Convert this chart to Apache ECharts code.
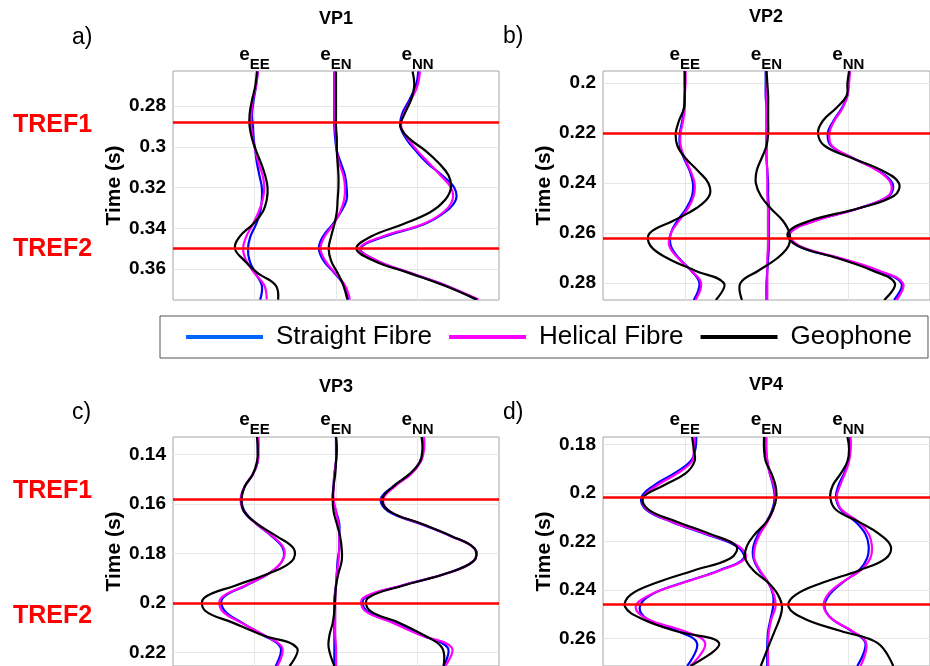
<!DOCTYPE html>
<html>
<head>
<meta charset="utf-8">
<script src="https://cdn.jsdelivr.net/npm/echarts@6/dist/echarts.min.js"></script>
<style>
  html, body { margin: 0; padding: 0; background: #fff; }
  #chart { width: 930px; height: 666px; }
</style>
</head>
<body>
<div id="chart"></div>
<script>
// trace amplitudes are in x-axis units, where the trace spacing is 100
const vp1Time = [0.263, 0.27, 0.277, 0.284, 0.29, 0.296, 0.302, 0.308, 0.314, 0.32, 0.326, 0.332, 0.338, 0.344, 0.35, 0.356, 0.362, 0.368, 0.375];
const vp1Range = [0.2628, 0.3752];
const vp1Ticks = [0.28, 0.3, 0.32, 0.34, 0.36];
const vp1Tref = [0.288, 0.35];
const vp1EeStraight = [4, 2, -1, -3, -2, -1, 1, 3, 6, 9, 9, 7, 2, -5, -8, -6, 1, 9, 7];
const vp1EeHelical = [4, 2, -2, -4, -4, -2, 1, 5, 10, 12, 10, 5, -2, -10, -14, -10, 0, 12, 15];
const vp1EeGeophone = [3, 1, -3, -6, -6, -3, 2, 8, 13, 16, 15, 10, -2, -18, -24, -12, 4, 26, 29];
const vp1EnStraight = [-2, -2, -2, -2, -2, -1, 1, 6, 11, 13, 13, 6, -4, -16, -21, -15, -2, 10, 15];
const vp1EnHelical = [-1, -1, -1, -1, -1, 0, 1, 4, 9, 11, 10, 5, -3, -14, -19, -13, -1, 11, 17];
const vp1EnGeophone = [0, 0, 0, 0, 0, 1, 1, 2, 3, 3, 2, 1, -2, -6, -9, -6, 2, 9, 14];
const vp1NnStraight = [1, -2, -10, -19, -21, -14, -2, 12, 30, 45, 47, 34, 8, -40, -70, -49, -9, 34, 72];
const vp1NnHelical = [3, 0, -8, -17, -20, -12, 0, 14, 28, 41, 43, 32, 6, -43, -71, -49, -8, 34, 75];
const vp1NnGeophone = [-6, -4, -8, -16, -21, -10, 10, 26, 38, 41, 34, 16, -18, -57, -75, -53, -10, 32, 73];

const vp2Time = [0.1951, 0.2, 0.205, 0.21, 0.215, 0.22, 0.225, 0.23, 0.235, 0.24, 0.245, 0.25, 0.255, 0.26, 0.265, 0.27, 0.275, 0.28, 0.2867];
const vp2Range = [0.1951, 0.2867];
const vp2Ticks = [0.2, 0.22, 0.24, 0.26, 0.28];
const vp2Tref = [0.22, 0.262];
const vp2EeStraight = [0, 0, 0, -1, -3, -6, -6, -1, 6, 10, 9, 2, -9, -17, -17, -7, 8, 18, 11];
const vp2EeHelical = [1, 1, 0, 0, -2, -5, -5, 0, 7, 12, 11, 4, -7, -17, -19, -8, 8, 20, 13];
const vp2EeGeophone = [0, 0, 0, -1, -7, -11, -9, 1, 16, 29, 30, 14, -14, -43, -42, -21, 13, 48, 38];
const vp2EnStraight = [-1, -1, -1, 0, 0, 0, 0, 0, 1, 2, 2, 3, 3, 3, 3, 2, 1, 0, 0];
const vp2EnHelical = [0, 0, 0, 0, 0, 0, 0, 0, 1, 1, 1, 2, 2, 2, 2, 1, 1, 1, 1];
const vp2EnGeophone = [0, 1, 2, 2, 2, 2, 0, -6, -12, -13, -7, 5, 20, 28, 27, 13, -10, -32, -30];
const vp2NnStraight = [2, 0, -1, -8, -18, -25, -21, 6, 37, 54, 50, 13, -41, -72, -62, -11, 36, 65, 56];
const vp2NnHelical = [2, 1, -1, -7, -17, -23, -20, 6, 36, 52, 49, 13, -40, -71, -60, -9, 38, 67, 59];
const vp2NnGeophone = [1, -1, -2, -15, -31, -37, -29, 5, 42, 62, 56, 13, -47, -74, -62, -13, 30, 57, 44];

const vp3Time = [0.133, 0.138, 0.143, 0.148, 0.153, 0.158, 0.163, 0.168, 0.173, 0.178, 0.183, 0.188, 0.193, 0.198, 0.203, 0.208, 0.213, 0.218, 0.2254];
const vp3Range = [0.133, 0.2254];
const vp3Ticks = [0.14, 0.16, 0.18, 0.2, 0.22];
const vp3Tref = [0.158, 0.2];
const vp3EeStraight = [4, 4, 4, -2, -12, -16, -12, 2, 21, 35, 34, 18, -11, -39, -37, -15, 11, 32, 26];
const vp3EeHelical = [5, 5, 4, -2, -12, -17, -13, 2, 22, 36, 34, 18, -12, -41, -40, -16, 12, 34, 28];
const vp3EeGeophone = [3, 4, 3, -2, -12, -16, -13, 3, 27, 48, 46, 18, -24, -62, -61, -26, 10, 52, 43];
const vp3EnStraight = [0, 0, 0, -2, -3, -4, 0, 4, 4, 4, 2, 1, 0, -2, -2, -2, -2, -2, -2];
const vp3EnHelical = [0, 1, 0, -2, -3, -3, 0, 3, 4, 4, 3, 1, 0, -1, -1, -1, -1, 0, 0];
const vp3EnGeophone = [0, 1, 0, -1, -3, -4, -3, 1, 5, 7, 7, 3, 0, -1, -2, -4, -8, -9, -2];
const vp3NnStraight = [7, 7, 3, -9, -30, -45, -36, 3, 41, 70, 69, 36, -20, -65, -63, -28, 5, 37, 32];
const vp3NnHelical = [8, 8, 4, -8, -28, -42, -34, 4, 41, 70, 69, 36, -20, -67, -65, -30, 4, 42, 34];
const vp3NnGeophone = [5, 6, 3, -10, -30, -43, -34, 5, 42, 70, 69, 36, -18, -61, -59, -22, 8, 30, 32];

const vp4Time = [0.177, 0.182, 0.187, 0.192, 0.197, 0.202, 0.207, 0.212, 0.217, 0.222, 0.227, 0.232, 0.237, 0.242, 0.247, 0.252, 0.257, 0.262, 0.2714];
const vp4Range = [0.177, 0.2714];
const vp4Ticks = [0.18, 0.2, 0.22, 0.24, 0.26];
const vp4Tref = [0.202, 0.246];
const vp4EeStraight = [14, 13, 7, -13, -38, -53, -47, -16, 25, 63, 72, 42, -2, -41, -55, -46, -9, 15, 3];
const vp4EeHelical = [12, 11, 9, -9, -34, -51, -46, -15, 27, 66, 74, 43, -1, -42, -60, -46, -1, 25, 7];
const vp4EeGeophone = [9, 11, 12, 1, -26, -51, -44, -9, 31, 63, 56, 11, -34, -66, -73, -52, -11, 42, 7];
const vp4EnStraight = [-1, -1, 1, 4, 8, 10, 7, 0, -10, -16, -16, -9, 2, 8, 8, 5, 2, 1, 1];
const vp4EnHelical = [0, 0, 1, 4, 9, 11, 8, 1, -8, -14, -15, -8, 2, 9, 11, 6, 3, 2, 2];
const vp4EnGeophone = [-3, -3, -1, 6, 11, 12, 8, 0, -14, -24, -26, -16, 2, 14, 19, 16, 10, 4, -7];
const vp4NnStraight = [2, 2, 0, -5, -12, -15, -9, 9, 21, 25, 23, 13, -7, -23, -29, -20, 4, 21, 11];
const vp4NnHelical = [3, 3, 1, -4, -10, -14, -8, 13, 25, 29, 27, 15, -8, -25, -30, -20, 5, 22, 15];
const vp4NnGeophone = [-1, 1, -1, -9, -19, -22, -15, 13, 38, 52, 46, 13, -31, -64, -73, -53, -9, 36, 55];

const components = ['EE', 'EN', 'NN'];
const componentPos = [100, 200, 300];
const sensors = ['Straight Fibre', 'Helical Fibre', 'Geophone'];
const sensorColors = ['#0000ff', '#ff00ff', '#000000'];
const FONT = 'Liberation Sans, Arial, sans-serif';

const panels = [
  { time: vp1Time, range: vp1Range, ticks: vp1Ticks, tref: vp1Tref,
    traces: [[vp1EeStraight, vp1EeHelical, vp1EeGeophone], [vp1EnStraight, vp1EnHelical, vp1EnGeophone], [vp1NnStraight, vp1NnHelical, vp1NnGeophone]] },
  { time: vp2Time, range: vp2Range, ticks: vp2Ticks, tref: vp2Tref,
    traces: [[vp2EeStraight, vp2EeHelical, vp2EeGeophone], [vp2EnStraight, vp2EnHelical, vp2EnGeophone], [vp2NnStraight, vp2NnHelical, vp2NnGeophone]] },
  { time: vp3Time, range: vp3Range, ticks: vp3Ticks, tref: vp3Tref,
    traces: [[vp3EeStraight, vp3EeHelical, vp3EeGeophone], [vp3EnStraight, vp3EnHelical, vp3EnGeophone], [vp3NnStraight, vp3NnHelical, vp3NnGeophone]] },
  { time: vp4Time, range: vp4Range, ticks: vp4Ticks, tref: vp4Tref,
    traces: [[vp4EeStraight, vp4EeHelical, vp4EeGeophone], [vp4EnStraight, vp4EnHelical, vp4EnGeophone], [vp4NnStraight, vp4NnHelical, vp4NnGeophone]] }
];

// panel boxes (a, b, c, d)
const boxes = [
  { left: 173, top: 71, width: 326, height: 229, labelMargin: 7 },
  { left: 603, top: 71, width: 328, height: 229, labelMargin: 7 },
  { left: 173, top: 437, width: 326, height: 231, labelMargin: 8 },
  { left: 603, top: 437, width: 328, height: 231, labelMargin: 8 }
];

const grid = [], xAxis = [], yAxis = [], series = [];

// vertical wiggle trace: one smooth polyline through the points, positioned by the axes
function traceSeries(name, gi, pts, color, z) {
  return {
    name: name, type: 'custom', xAxisIndex: gi, yAxisIndex: gi,
    data: pts, itemStyle: { color: color }, silent: true, z: z,
    renderItem: (params, api) => {
      if (params.dataIndex !== 0) return null;
      const cs = params.coordSys;
      return {
        type: 'polyline',
        shape: { points: pts.map(d => api.coord(d)), smooth: 0.4 },
        style: { stroke: color, lineWidth: 2.2, fill: 'none' },
        clipPath: { type: 'rect', shape: { x: cs.x, y: cs.y, width: cs.width, height: cs.height } }
      };
    }
  };
}

panels.forEach((p, gi) => {
  const b = boxes[gi];
  grid.push({ left: b.left, top: b.top, width: b.width, height: b.height, show: true,
    borderColor: '#a6a6a6', borderWidth: 1, backgroundColor: '#fff' });
  xAxis.push({
    gridIndex: gi, type: 'value', min: 0, max: 400, position: 'top',
    axisLine: { show: false },
    axisTick: { show: false, customValues: componentPos },
    splitLine: { show: true, lineStyle: { color: '#e6e6e6', width: 1 } },
    axisLabel: {
      customValues: componentPos, margin: b.labelMargin,
      formatter: v => '{e|e}{s|' + components[Math.round(v / 100) - 1] + '}',
      rich: {
        e: { fontSize: 19, fontWeight: 'bold', fontFamily: FONT, color: '#000', lineHeight: 19, verticalAlign: 'top' },
        s: { fontSize: 15, fontWeight: 'bold', fontFamily: FONT, color: '#000', lineHeight: 15, padding: [12, 0, 0, 0], verticalAlign: 'top' }
      }
    }
  });
  yAxis.push({
    gridIndex: gi, type: 'value', inverse: true, min: p.range[0], max: p.range[1],
    name: 'Time (s)', nameLocation: 'middle', nameGap: 47,
    nameTextStyle: { fontSize: 21, fontWeight: 'bold', fontFamily: FONT, color: '#000' },
    axisLine: { show: false },
    axisTick: { show: false, customValues: p.ticks },
    splitLine: { show: true, lineStyle: { color: '#e6e6e6', width: 1 } },
    axisLabel: { customValues: p.ticks, margin: 7, fontSize: 19, fontWeight: 'bold', fontFamily: FONT, color: '#000' }
  });
  components.forEach((c, ci) => {
    sensors.forEach((s, si) => {
      const amp = p.traces[ci][si];
      const pts = p.time.map((t, k) => [componentPos[ci] + amp[k], t]);
      series.push(traceSeries(s, gi, pts, sensorColors[si], 2 + si));
    });
  });
  // TREF lines
  series.push({
    type: 'line', xAxisIndex: gi, yAxisIndex: gi, data: [], z: 10, silent: true,
    markLine: {
      silent: true, symbol: 'none', precision: 4, label: { show: false }, animation: false,
      lineStyle: { color: '#ff0000', width: 2.5, type: 'solid' },
      data: p.tref.map(v => ({ yAxis: v }))
    }
  });
});

const txt = (text, x, y, font, fill, align) => ({
  type: 'text', x: x, y: y, silent: true,
  style: { text: text, font: font, fill: fill, align: align || 'center', verticalAlign: 'middle' }
});

const graphic = [
  txt('VP1', 336, 19.5, 'bold 18px ' + FONT, '#000'),
  txt('VP2', 766, 17.5, 'bold 18px ' + FONT, '#000'),
  txt('VP3', 336, 387, 'bold 18px ' + FONT, '#000'),
  txt('VP4', 766, 385, 'bold 18px ' + FONT, '#000'),
  txt('a)', 72, 38, '23px ' + FONT, '#000', 'left'),
  txt('b)', 503, 36.5, '23px ' + FONT, '#000', 'left'),
  txt('c)', 72, 412.5, '23px ' + FONT, '#000', 'left'),
  txt('d)', 503, 412.5, '23px ' + FONT, '#000', 'left'),
  txt('TREF1', 13, 125, 'bold 25px ' + FONT, '#ff0000', 'left'),
  txt('TREF2', 13, 249.5, 'bold 25px ' + FONT, '#ff0000', 'left'),
  txt('TREF1', 13, 491, 'bold 25px ' + FONT, '#ff0000', 'left'),
  txt('TREF2', 13, 616, 'bold 25px ' + FONT, '#ff0000', 'left')
];

const chart = echarts.init(document.getElementById('chart'), null, { renderer: 'canvas' });
chart.setOption({
  animation: false,
  backgroundColor: '#fff',
  grid: grid,
  xAxis: xAxis,
  yAxis: yAxis,
  legend: {
    data: [
      { name: 'Straight Fibre', itemStyle: { color: '#0066ff' } },
      { name: 'Helical Fibre', itemStyle: { color: '#ff00ff' } },
      { name: 'Geophone', itemStyle: { color: '#000000' } }
    ],
    left: 160, top: 316, width: 760, icon: 'rect', itemWidth: 77, itemHeight: 4, itemGap: 17,
    padding: [8, 16, 8, 26], borderColor: '#555', borderWidth: 1, backgroundColor: '#fff',
    selectedMode: false, z: 20,
    textStyle: { fontSize: 26, fontFamily: FONT, color: '#000', lineHeight: 26, padding: [0, 0, 0, 8] }
  },
  graphic: graphic,
  series: series
});
</script>
</body>
</html>
